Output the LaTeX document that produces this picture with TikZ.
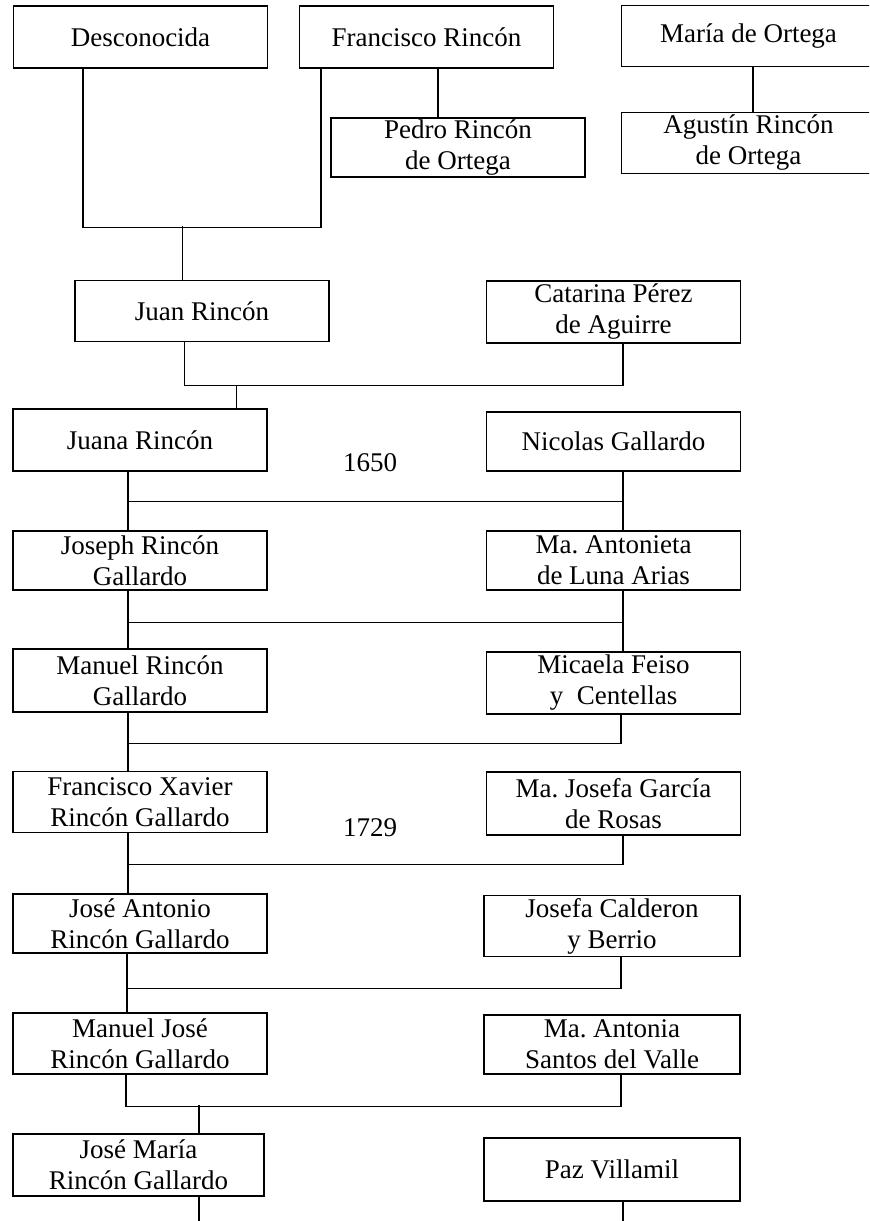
\documentclass[tikz,border=0pt]{standalone}
\usepackage{fontspec}
\setmainfont{Liberation Serif}
\usetikzlibrary{calc}

\begin{document}
\begin{tikzpicture}[x=0.5pt, y=-0.5pt,
    person/.style={draw, line width=0.6pt, align=center, inner sep=0pt,
        minimum width=127pt, minimum height=30.5pt,
        font=\fontsize{13.5}{15.5}\selectfont},
    year/.style={inner sep=0pt, font=\fontsize{13.5}{15.5}\selectfont},
    tie/.style={line width=0.6pt}]

\useasboundingbox (0,0) rectangle (869,1221);
\clip (0,0) rectangle (869,1221);

% First generations
\node[person, minimum height=31pt] (desc) at (140.5,37) {Desconocida};
\node[person, minimum height=31pt] (fran) at (426.5,37) {Francisco Rincón};
\node[person, minimum height=29.5pt] (pedro) at (458,147.5) {Pedro Rincón\\de Ortega};
\node[person] (maria) at (748.5,36) {María de Ortega};
\node[person] (agustin) at (748.5,143) {Agustín Rincón\\de Ortega};

% Left column
\node[person] (juan) at (202,311) {Juan Rincón};
\node[person, minimum height=31pt] (juana) at (140,440) {Juana Rincón};
\node[person, minimum height=29.5pt] (joseph) at (140,560.5) {Joseph Rincón\\Gallardo};
\node[person, minimum height=31.5pt] (manuel) at (140,680.5) {Manuel Rincón\\Gallardo};
\node[person] (fxavier) at (140,802) {Francisco Xavier\\Rincón Gallardo};
\node[person, minimum height=29.5pt] (jantonio) at (140,923.5) {José Antonio\\Rincón Gallardo};
\node[person] (mjose) at (140,1043.5) {Manuel José\\Rincón Gallardo};
\node[person, minimum width=125.5pt, minimum height=31pt] (jmaria) at (138.5,1165) {José María\\Rincón Gallardo};

% Right column
\node[person, minimum height=31pt] (cat) at (613.5,312) {Catarina Pérez\\de Aguirre};
\node[person, minimum height=29.5pt] (nicolas) at (613.5,441.5) {Nicolas Gallardo};
\node[person, minimum height=29.5pt] (anton) at (613.5,560.5) {Ma.\ Antonieta\\de Luna Arias};
\node[person, minimum height=31pt] (micaela) at (613.5,683) {Micaela Feiso\\y~ Centellas};
\node[person, minimum height=31.5pt] (mjosefa) at (613.5,803.5) {Ma.\ Josefa García\\de Rosas};
\node[person, minimum width=128pt] (jcald) at (612,926) {Josefa Calderon\\y Berrio};
\node[person, minimum width=128pt, minimum height=29.5pt] (mantonia) at (612,1044.5) {Ma.\ Antonia\\Santos del Valle};
\node[person, minimum width=128pt, minimum height=31.5pt] (paz) at (612,1169.5) {Paz Villamil};

% Years
\node[year] (y1650) at (370,463) {1650};
\node[year] (y1729) at (370,828) {1729};

% Desconocida + Francisco
\coordinate (d1) at ($(desc.south west)+(70,0)$);
\coordinate (f1) at ($(fran.south west)+(22,0)$);
\draw[tie] (d1) -- ++(0,159) -| (f1);
\coordinate (jn) at ($(juan.north west)+(108,0)$);
\draw[tie] (jn) -- ($(jn)+(0,-54)$);
\coordinate (f2) at ($(fran.south)+(11.5,0)$);
\draw[tie] (f2) -- (f2 |- pedro.north);
\coordinate (m1) at ($(maria.south)+(4.5,0)$);
\draw[tie] (m1) -- (m1 |- agustin.north);

% Juan + Catarina
\coordinate (j1) at ($(juan.south west)+(110,43)$);
\draw[tie] (j1 |- juan.south) -- (j1) -| ($(cat.south)+(9.5,0)$);
\coordinate (jd) at ($(juana.north west)+(224,0)$);
\draw[tie] (jd) -- (jd |- j1);

% Juana + Nicolas
\draw[tie] ($(juana.south)+(-12,0)$) -- ($(joseph.north)+(-12,0)$);
\draw[tie] ($(nicolas.south)+(9.5,0)$) -- ($(anton.north)+(9.5,0)$);
\draw[tie] ($(juana.south)+(-12,30)$) -- ($(nicolas.south)+(9.5,30)$);

% Joseph + Antonieta
\draw[tie] ($(joseph.south)+(-12,0)$) -- ($(manuel.north)+(-12,0)$);
\draw[tie] ($(anton.south)+(9.5,0)$) -- ($(micaela.north)+(9.5,0)$);
\draw[tie] ($(joseph.south)+(-12,32)$) -- ($(anton.south)+(9.5,32)$);

% Manuel + Micaela
\draw[tie] ($(manuel.south)+(-12,0)$) -- ($(fxavier.north)+(-12,0)$);
\draw[tie] ($(micaela.south)+(7.5,0)$) -- ++(0,29) -| ($(manuel.south)+(-12,31)$);

% Francisco Xavier + Ma. Josefa
\draw[tie] ($(fxavier.south)+(-12,0)$) -- ($(jantonio.north)+(-12,0)$);
\draw[tie] ($(mjosefa.south)+(9.5,0)$) -- ++(0,29) -| ($(fxavier.south)+(-12,32)$);

% Jose Antonio + Josefa
\draw[tie] ($(jantonio.south)+(-13,0)$) -- ($(mjose.north)+(-13,0)$);
\draw[tie] ($(jcald.south)+(9,0)$) -- ++(0,31) -| ($(jantonio.south)+(-13,34)$);

% Manuel Jose + Ma. Antonia
\coordinate (mj) at ($(mjose.south)+(-14,0)$);
\coordinate (ma) at ($(mantonia.south)+(9,0)$);
\draw[tie] (mj) -- ++(0,32) -| (ma);
\coordinate (jm) at ($(jmaria.north)+(60.5,0)$);
\draw[tie] (jm) -- ($(jm)+(0,-28)$);

% Jose Maria + Paz
\coordinate (jmend) at (199,1221);
\coordinate (pzend) at (623,1221);
\draw[tie] (jmaria.south -| jmend) -- (jmend);
\draw[tie] (paz.south -| pzend) -- (pzend);

\end{tikzpicture}
\end{document}
